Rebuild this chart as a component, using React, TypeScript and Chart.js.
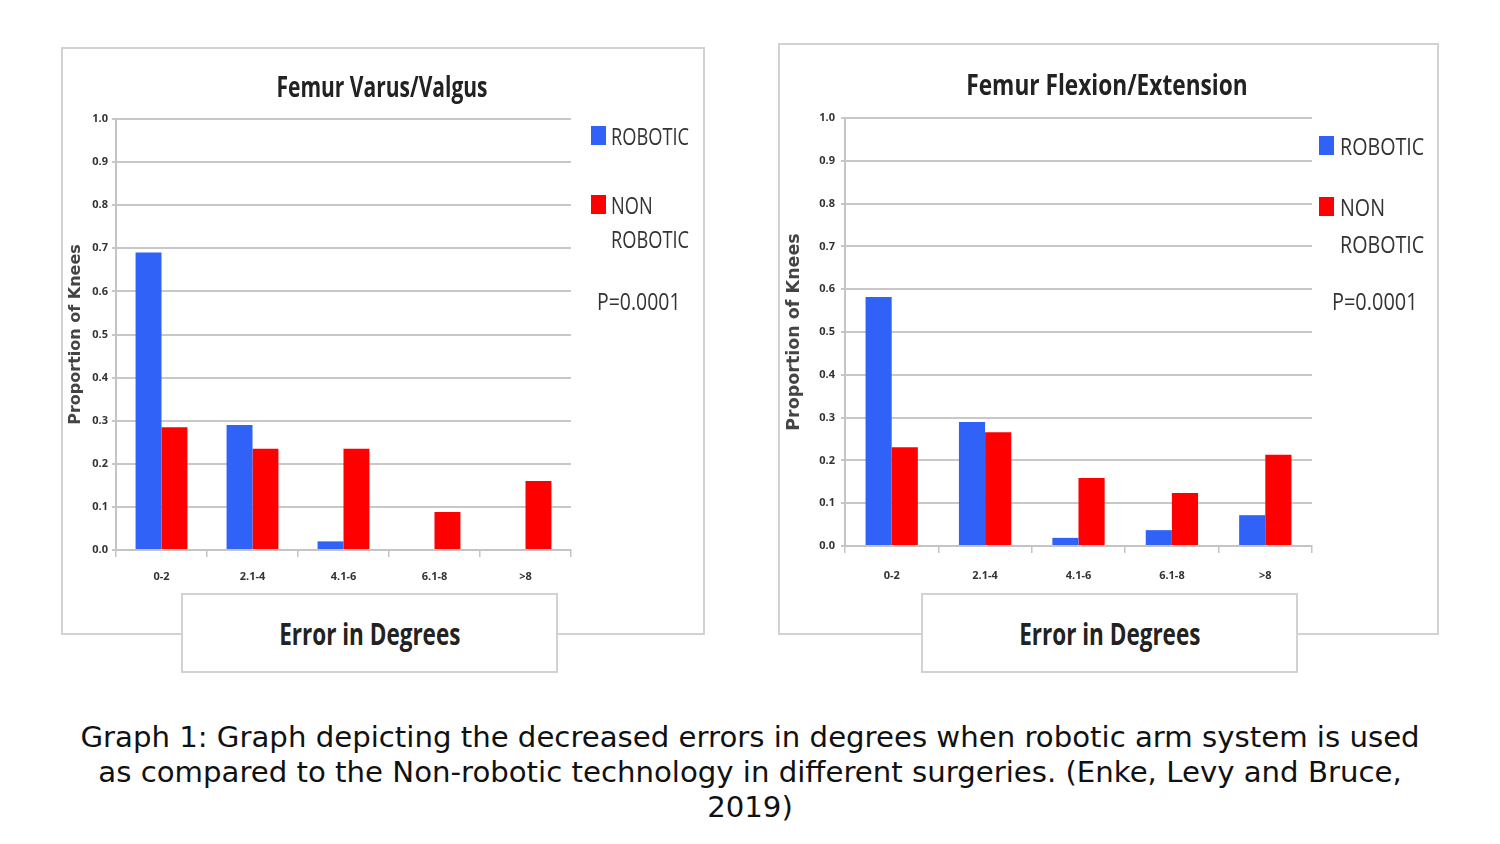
import React, { useEffect, useRef } from "react";
import { Chart, registerables } from "chart.js";

Chart.register(...registerables);

const CATEGORIES = ["0-2", "2.1-4", "4.1-6", "6.1-8", ">8"];
const VARUS_ROBOTIC = [0.69, 0.29, 0.02, 0, 0];
const VARUS_NON_ROBOTIC = [0.285, 0.235, 0.235, 0.088, 0.16];
const FLEXION_ROBOTIC = [0.582, 0.29, 0.019, 0.037, 0.072];
const FLEXION_NON_ROBOTIC = [0.231, 0.266, 0.159, 0.124, 0.213];
const Y_TICKS = [0, 0.1, 0.2, 0.3, 0.4, 0.5, 0.6, 0.7, 0.8, 0.9, 1.0];

const BLUE = "#3162f7";
const RED = "#ff0000";
const SANS = "'Open Sans', sans-serif";

type Geo = {
  left: number; top: number; width: number; height: number;
  yAxisW: number; xAxisH: number; padTop: number; padRight: number;
  yTitlePad: number; yTitleSize: number; yTickPad: number; xTickPad: number; catPct: number;
};

function BarChart({ robotic, nonRobotic, geo }: { robotic: number[]; nonRobotic: number[]; geo: Geo }) {
  const ref = useRef<HTMLCanvasElement | null>(null);
  useEffect(() => {
    if (!ref.current) return;
    const chart = new Chart(ref.current, {
      type: "bar",
      data: {
        labels: CATEGORIES,
        datasets: [
          { label: "ROBOTIC", data: robotic, backgroundColor: BLUE, barPercentage: 1, categoryPercentage: geo.catPct },
          { label: "NON ROBOTIC", data: nonRobotic, backgroundColor: RED, barPercentage: 1, categoryPercentage: geo.catPct },
        ],
      },
      options: {
        animation: false,
        responsive: false,
        maintainAspectRatio: false,
        layout: { padding: { left: 0, right: geo.padRight, top: geo.padTop, bottom: 0 } },
        plugins: { legend: { display: false }, title: { display: false }, tooltip: { enabled: false } },
        scales: {
          x: {
            grid: { offset: true, drawOnChartArea: false, color: "#c4c4c4", tickLength: 7, lineWidth: 1.5 },
            border: { color: "#c4c4c4", width: 2 },
            ticks: { font: { family: SANS, size: 11, weight: "bold" }, color: "#333", padding: geo.xTickPad },
            afterFit: (s: any) => { s.height = geo.xAxisH; },
          },
          y: {
            min: 0,
            max: 1,
            afterBuildTicks: (s: any) => { s.ticks = Y_TICKS.map((v) => ({ value: v })); },
            ticks: {
              callback: (v: any) => Number(v).toFixed(1),
              font: { family: SANS, size: 11, weight: "bold" },
              color: "#333",
              padding: geo.yTickPad,
            },
            grid: { color: "#c8c8c8", lineWidth: 2, tickLength: 4 },
            border: { display: true, color: "#c4c4c4", width: 2 },
            title: {
              display: true,
              text: "Proportion of Knees",
              font: { family: "'DejaVu Sans', sans-serif", size: geo.yTitleSize, weight: "bold" },
              color: "#444",
              padding: { top: geo.yTitlePad, bottom: 0 },
            },
            afterFit: (s: any) => { s.width = geo.yAxisW; },
          },
        },
      },
    } as any);
    return () => chart.destroy();
  }, []);
  return (
    <canvas
      ref={ref}
      width={geo.width}
      height={geo.height}
      style={{ position: "absolute", left: geo.left, top: geo.top, width: geo.width, height: geo.height }}
    />
  );
}

const boxStyle = (l: number, t: number, w: number, h: number): React.CSSProperties => ({
  position: "absolute", left: l, top: t, width: w, height: h,
  border: "2px solid #d2d2d2", boxSizing: "border-box", background: "#fff",
});

const textStyle = (l: number, cy: number, size: number, sx: number, extra: React.CSSProperties = {}): React.CSSProperties => ({
  position: "absolute", left: l, top: cy - size * 0.6, fontFamily: SANS, fontSize: size, color: "#333",
  lineHeight: 1.2, whiteSpace: "nowrap", transform: `scaleX(${sx})`, transformOrigin: "left center", ...extra,
});

function Panel({ box, geo, title, titleCx, titleY, titleSx, legSx, pSx, robotic, nonRobotic, legend, xBox }: any) {
  return (
    <>
      <div style={boxStyle(box[0], box[1], box[2], box[3])} />
      <BarChart robotic={robotic} nonRobotic={nonRobotic} geo={geo} />
      <div
        style={{
          ...textStyle(titleCx - 300, titleY, 28, titleSx, { fontWeight: "bold", color: "#222", transformOrigin: "center center" }),
          width: 600,
          textAlign: "center",
        }}
      >
        {title}
      </div>
      <div style={{ position: "absolute", left: legend.sq, top: legend.y1 - 10, width: 15, height: 19, background: BLUE }} />
      <div style={textStyle(legend.tx, legend.y1, 24, legSx)}>ROBOTIC</div>
      <div style={{ position: "absolute", left: legend.sq, top: legend.y2 - 10, width: 15, height: 19, background: RED }} />
      <div style={textStyle(legend.tx, legend.y2, 24, legSx)}>NON</div>
      <div style={textStyle(legend.tx, legend.y3, 24, legSx)}>ROBOTIC</div>
      <div style={textStyle(legend.px, legend.py, 24, pSx)}>P=0.0001</div>
      <div style={{ ...boxStyle(xBox[0], xBox[1], xBox[2], xBox[3]), display: "flex", alignItems: "center", justifyContent: "center" }}>
        <span style={{ fontFamily: SANS, fontSize: 30, fontWeight: "bold", color: "#222", display: "inline-block", transform: "scaleX(0.75)", whiteSpace: "nowrap" }}>
          Error in Degrees
        </span>
      </div>
    </>
  );
}

export default function App() {
  return (
    <div style={{ position: "fixed", left: 0, top: 0, width: 1500, height: 844, background: "#fff", overflow: "hidden" }}>
      <Panel
        box={[61, 47, 644, 588]}
        geo={{ left: 61, top: 47, width: 644, height: 588, yAxisW: 55, xAxisH: 85, padTop: 72, padRight: 134, yTitlePad: 5, yTitleSize: 16, yTickPad: 4, xTickPad: 13, catPct: 0.57 }}
        title="Femur Varus/Valgus"
        titleCx={382}
        titleY={87}
        titleSx={0.75}
        legSx={0.76}
        pSx={0.81}
        robotic={VARUS_ROBOTIC}
        nonRobotic={VARUS_NON_ROBOTIC}
        legend={{ sq: 591, tx: 611, y1: 136, y2: 205, y3: 239, px: 597, py: 301 }}
        xBox={[181, 593, 377, 80]}
      />
      <Panel
        box={[778, 43, 661, 592]}
        geo={{ left: 778, top: 43, width: 661, height: 592, yAxisW: 67, xAxisH: 89, padTop: 75, padRight: 127, yTitlePad: 6, yTitleSize: 17.5, yTickPad: 6, xTickPad: 16, catPct: 0.56 }}
        title="Femur Flexion/Extension"
        titleCx={1107}
        titleY={85}
        titleSx={0.81}
        legSx={0.82}
        pSx={0.83}
        robotic={FLEXION_ROBOTIC}
        nonRobotic={FLEXION_NON_ROBOTIC}
        legend={{ sq: 1319, tx: 1340, y1: 146, y2: 207, y3: 244, px: 1332, py: 301 }}
        xBox={[921, 593, 377, 80]}
      />
      <div style={{ position: "absolute", left: 0, top: 720, width: 1500, textAlign: "center", fontFamily: "'DejaVu Sans', sans-serif", fontSize: 29.2, lineHeight: "35px", color: "#111" }}>
        Graph 1: Graph depicting the decreased errors in degrees when robotic arm system is used
        <br />
        as compared to the Non-robotic technology in different surgeries. (Enke, Levy and Bruce,
        <br />
        2019)
      </div>
    </div>
  );
}
